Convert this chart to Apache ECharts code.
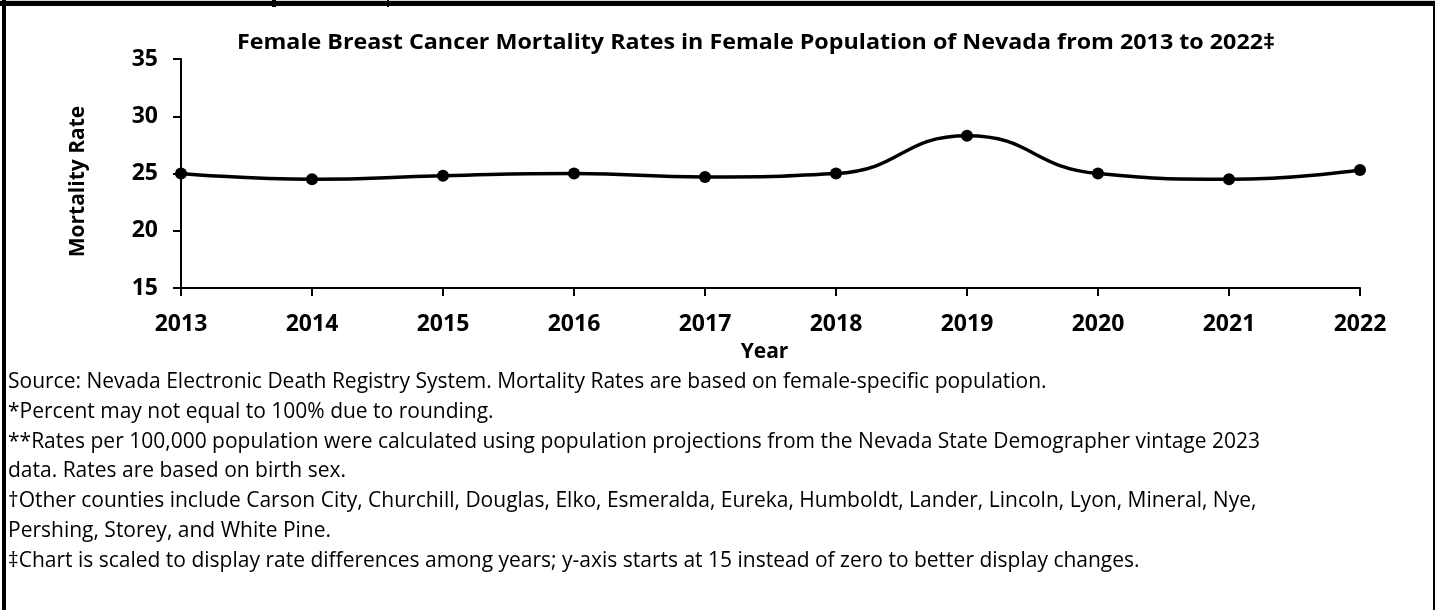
<!DOCTYPE html>
<html>
<head>
<meta charset="utf-8">
<script src="https://cdn.jsdelivr.net/npm/echarts@6/dist/echarts.min.js"></script>
<style>
    html, body { margin: 0; padding: 0; background: #fff; }
    #main { width: 1435px; height: 610px; }
</style>
</head>
<body>
<div id="main"></div>
<script>
// Chart data
var years = ['2013', '2014', '2015', '2016', '2017', '2018', '2019', '2020', '2021', '2022'];
var rates = [25.0, 24.5, 24.8, 25.0, 24.7, 25.0, 28.3, 25.0, 24.5, 25.3];
var yTicks = [15, 20, 25, 30, 35];

var titleText = 'Female Breast Cancer Mortality Rates in Female Population of Nevada from 2013 to 2022\u2021';
var notes = [
    'Source: Nevada Electronic Death Registry System. Mortality Rates are based on female-specific population.',
    '*Percent may not equal to 100% due to rounding.',
    '**Rates per 100,000 population were calculated using population projections from the Nevada State Demographer vintage 2023',
    'data. Rates are based on birth sex.',
    '\u2020Other counties include Carson City, Churchill, Douglas, Elko, Esmeralda, Eureka, Humboldt, Lander, Lincoln, Lyon, Mineral, Nye,',
    'Pershing, Storey, and White Pine.',
    '\u2021Chart is scaled to display rate differences among years; y-axis starts at 15 instead of zero to better display changes.'
];

var font = '"Open Sans", sans-serif';
var myChart = echarts.init(document.getElementById('main'), null, { renderer: 'canvas' });

// page frame, title and footnotes (title is a bit wider than Open Sans, hence scaleX)
var graphics = [
    { type: 'rect', shape: { x: 0, y: 0, width: 1435, height: 1 }, style: { fill: '#d3d9e6' } },
    { type: 'rect', shape: { x: 0, y: 1, width: 1435, height: 5 }, style: { fill: '#000' } },
    { type: 'rect', shape: { x: 2, y: 0, width: 4, height: 610 }, style: { fill: '#000' } },
    { type: 'rect', shape: { x: 1433, y: 5, width: 2, height: 605 }, style: { fill: '#000' } },
    { type: 'rect', shape: { x: 272, y: 0, width: 4, height: 7 }, style: { fill: '#000' } },
    { type: 'rect', shape: { x: 387, y: 0, width: 2, height: 7 }, style: { fill: '#000' } },
    {
        type: 'text', x: 756, y: 43, scaleX: 1.108,
        style: { text: titleText, font: 'bold 21px ' + font, fill: '#000', align: 'center', verticalAlign: 'middle' }
    }
];
notes.forEach(function (t, i) {
    graphics.push({
        type: 'text',
        x: 8,
        y: 382 + i * 29.8,
        style: { text: t, font: '21px ' + font, fill: '#000', verticalAlign: 'middle' }
    });
});

var option = {
    backgroundColor: '#fff',
    animation: false,
    grid: { left: 181, right: 75, top: 59, bottom: 322, containLabel: false },
    xAxis: {
        type: 'category',
        data: years,
        boundaryGap: false,
        name: 'Year',
        nameLocation: 'middle',
        nameGap: 54,
        nameTextStyle: { fontFamily: font, fontWeight: 'bold', fontSize: 21, color: '#000', padding: [0, 12, 0, 0] },
        axisLine: { lineStyle: { color: '#000', width: 2 } },
        axisTick: { show: true, length: 8, lineStyle: { color: '#000', width: 2 } },
        axisLabel: { fontFamily: font, fontWeight: 'bold', fontSize: 23, color: '#000', margin: 25 },
        splitLine: { show: false }
    },
    yAxis: {
        type: 'value',
        min: yTicks[0],
        max: yTicks[yTicks.length - 1],
        interval: 5,
        name: 'Mortality Rate',
        nameLocation: 'middle',
        nameGap: 92,
        nameRotate: 90,
        nameTextStyle: { fontFamily: font, fontWeight: 'bold', fontSize: 21, color: '#000', padding: [0, 16, 0, 0] },
        axisLine: { show: true, lineStyle: { color: '#000', width: 2 } },
        axisTick: { show: true, length: 8, lineStyle: { color: '#000', width: 2 } },
        axisLabel: { fontFamily: font, fontWeight: 'bold', fontSize: 23, color: '#000', margin: 23 },
        splitLine: { show: false }
    },
    series: [{
        type: 'line',
        data: rates,
        smooth: 0.5,
        symbol: 'circle',
        symbolSize: 12,
        itemStyle: { color: '#000' },
        lineStyle: { color: '#000', width: 3.5 }
    }],
    graphic: graphics
};

myChart.setOption(option);
</script>
</body>
</html>
